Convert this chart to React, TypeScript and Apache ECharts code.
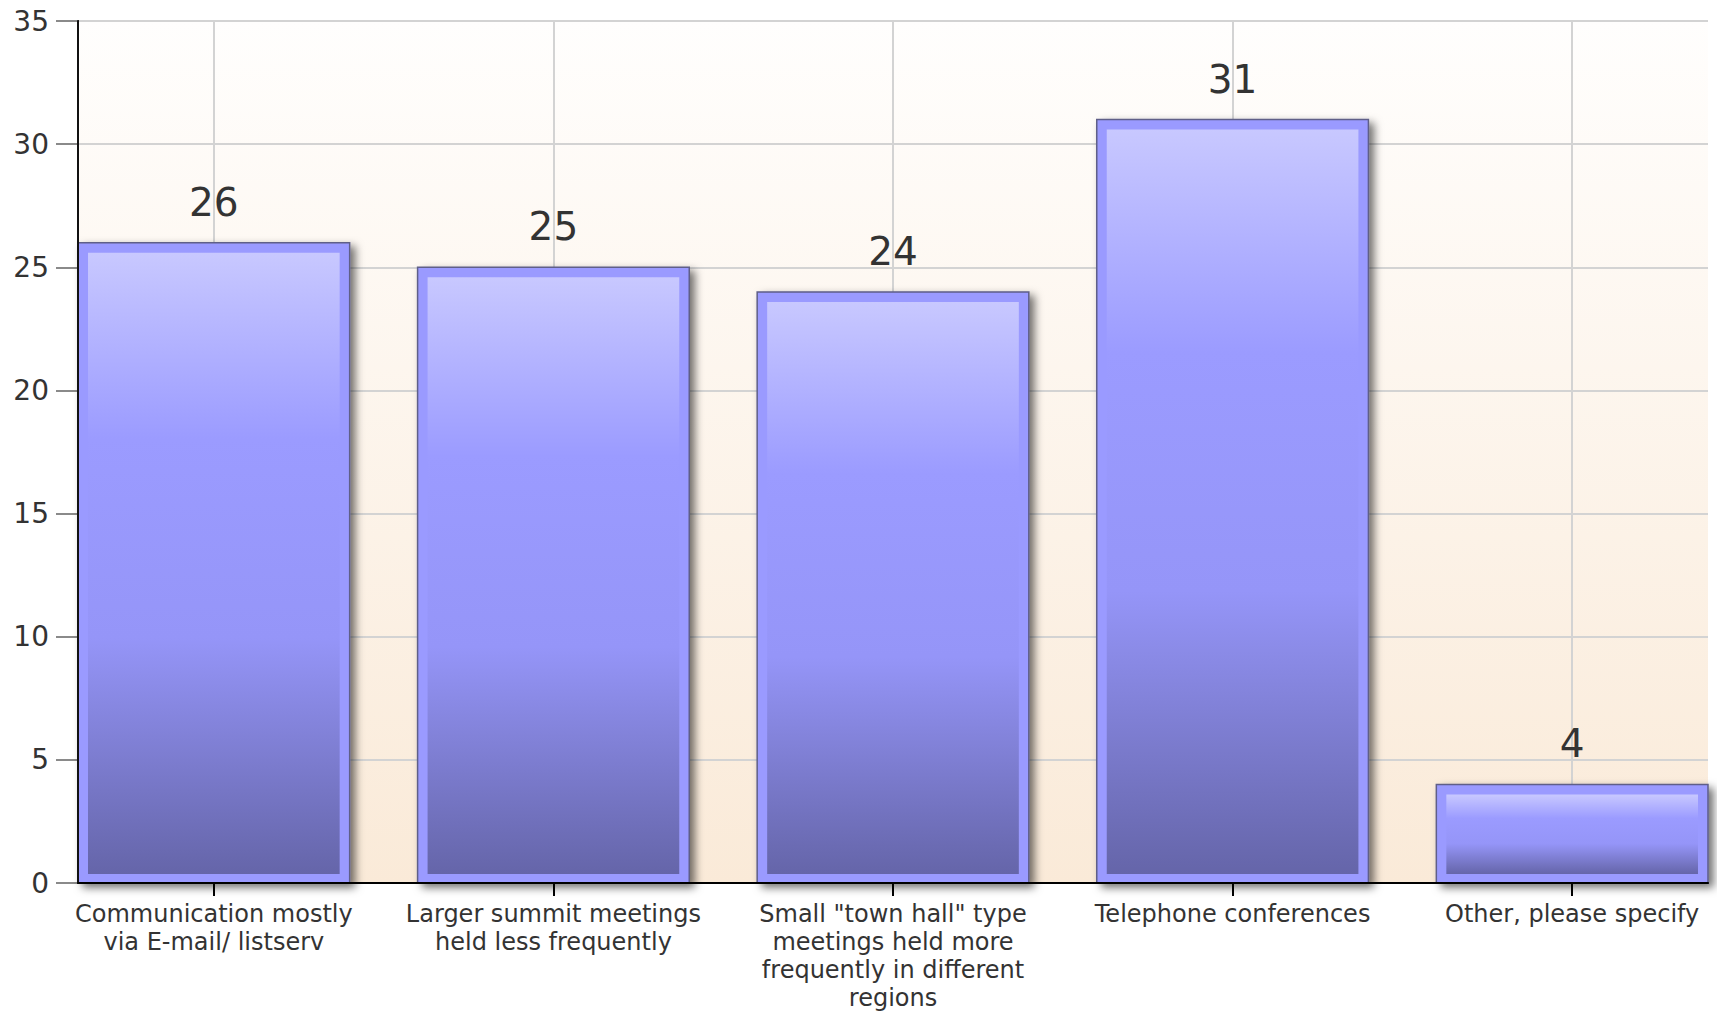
import React, { useEffect, useRef } from 'react';
import * as echarts from 'echarts';

const categories = [
  'Communication mostly\nvia E-mail/ listserv',
  'Larger summit meetings\nheld less frequently',
  'Small "town hall" type\nmeetings held more\nfrequently in different\nregions',
  'Telephone conferences',
  'Other, please specify',
];
const values = [26, 25, 24, 31, 4];
const yTicks = [0, 5, 10, 15, 20, 25, 30, 35];

const FONT = 'DejaVu Sans';

export default function App() {
  const ref = useRef<HTMLDivElement>(null);
  useEffect(() => {
    const chart = echarts.init(ref.current!, null, { renderer: 'svg' });
    const barUnits = 0.8;
    const catIdx = categories.map((_, i) => i);
    const xMin = -barUnits / 2;
    const xMax = categories.length - 1 + barUnits / 2;

    const renderItem = (params: any, api: any) => {
      const i = api.value(0);
      const v = api.value(1);
      const top = api.coord([i, v]);
      const base = api.coord([i, 0]);
      const w = api.size([barUnits, 0])[0];
      const cx = top[0];
      const x0 = cx - w / 2;
      const yTop = top[1];
      const h = base[1] - yTop;
      const b = 10;
      return {
        type: 'group',
        children: [
          {
            type: 'rect',
            shape: { x: x0, y: yTop, width: w, height: h },
            style: {
              fill: '#9a9aff',
              stroke: '#5e5e88',
              lineWidth: 1.5,
              shadowBlur: 8,
              shadowOffsetX: 5,
              shadowOffsetY: 4,
              shadowColor: 'rgba(0,0,0,0.55)',
            },
          },
          {
            type: 'rect',
            shape: { x: x0 + b, y: yTop + b, width: w - 2 * b, height: Math.max(0, h - b - 9) },
            style: {
              fill: new echarts.graphic.LinearGradient(0, 0, 0, 1, [
                { offset: 0, color: '#c8c8ff' },
                { offset: 0.3, color: '#9b9bff' },
                { offset: 0.62, color: '#9595f8' },
                { offset: 1, color: '#6565a9' },
              ]),
            },
          },
          {
            type: 'text',
            style: {
              text: String(v),
              x: cx,
              y: yTop - 21,
              align: 'center',
              verticalAlign: 'bottom',
              fontSize: 39,
              fontFamily: FONT,
              fill: '#333333',
            },
          },
        ],
      };
    };

    chart.setOption({
      animation: false,
      backgroundColor: '#ffffff',
      grid: {
        left: 78,
        right: 9,
        top: 21,
        bottom: 127,
        show: true,
        borderWidth: 0,
        backgroundColor: new echarts.graphic.LinearGradient(0, 0, 0, 1, [
          { offset: 0, color: '#fffefd' },
          { offset: 1, color: '#faead8' },
        ]),
      },
      xAxis: [
        {
          type: 'value',
          min: xMin,
          max: xMax,
          axisLine: { show: true, onZero: false, lineStyle: { color: '#000', width: 2 } },
          axisTick: { show: true, customValues: catIdx, length: 13, lineStyle: { color: '#000', width: 2 } },
          axisLabel: {
            customValues: catIdx,
            formatter: (val: number) => categories[Math.round(val)] ?? '',
            fontSize: 24,
            lineHeight: 28,
            color: '#333333',
            fontFamily: FONT,
            margin: 17,
          },
          splitLine: { show: true, lineStyle: { color: '#d3d3d3', width: 2 } },
        },
        {
          type: 'value',
          min: xMin,
          max: xMax,
          position: 'bottom',
          z: 10,
          axisLine: { show: true, onZero: false, lineStyle: { color: '#000', width: 2 } },
          axisTick: { show: false },
          axisLabel: { show: false },
          splitLine: { show: false },
        },
      ],
      yAxis: [
        {
          type: 'value',
          min: yTicks[0],
          max: yTicks[yTicks.length - 1],
          interval: yTicks[1] - yTicks[0],
          axisLine: { show: true, onZero: false, lineStyle: { color: '#111', width: 2 } },
          axisTick: { show: true, length: 22, lineStyle: { color: '#8a8a8a', width: 2 } },
          axisLabel: { fontSize: 28, color: '#333333', fontFamily: FONT, margin: 29 },
          splitLine: { show: true, lineStyle: { color: '#d3d3d3', width: 2 } },
        },
        {
          type: 'value',
          min: yTicks[0],
          max: yTicks[yTicks.length - 1],
          position: 'left',
          z: 10,
          axisLine: { show: true, onZero: false, lineStyle: { color: '#111', width: 2 } },
          axisTick: { show: false },
          axisLabel: { show: false },
          splitLine: { show: false },
        },
      ],
      series: [
        {
          type: 'custom',
          xAxisIndex: 0,
          yAxisIndex: 0,
          data: values.map((v, i) => [catIdx[i], v]),
          encode: { x: 0, y: 1 },
          renderItem,
          z: 3,
        },
      ],
    });
    return () => chart.dispose();
  }, []);
  return (
    <div
      ref={ref}
      style={{ position: 'fixed', left: 0, top: 0, width: '1717px', height: '1012px', background: '#fff' }}
    />
  );
}
